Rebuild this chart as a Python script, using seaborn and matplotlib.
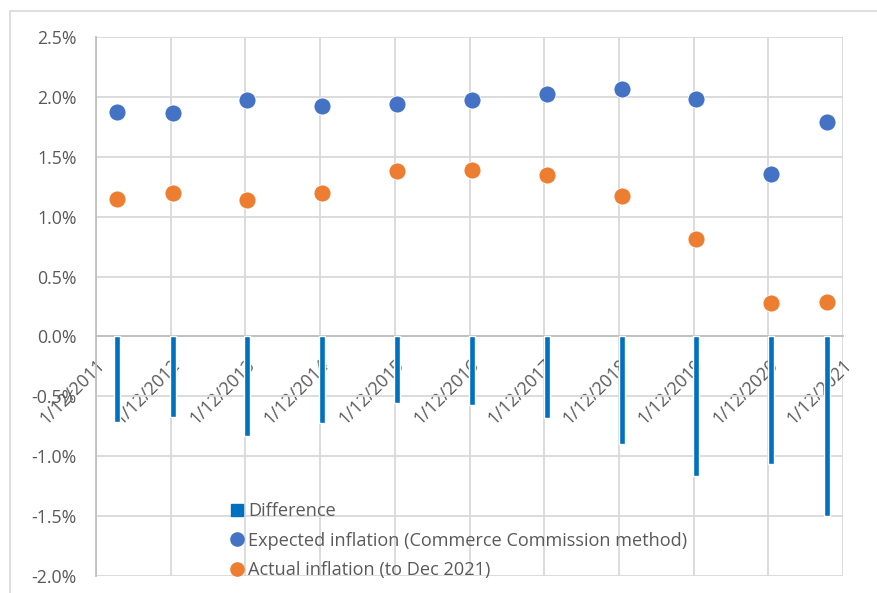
import matplotlib
matplotlib.use("Agg")
import matplotlib.pyplot as plt
from matplotlib.patches import Rectangle
from matplotlib.lines import Line2D
import matplotlib.ticker as mticker
import seaborn as sns
import pandas as pd

# Observation dates
dates = ["2012-03-14", "2012-12-12", "2013-12-09", "2014-12-10", "2015-12-12",
         "2016-12-13", "2017-12-14", "2018-12-16", "2019-12-13", "2020-12-14",
         "2021-09-13"]

# Inflation series (%)
expected = [1.876, 1.867, 1.970, 1.923, 1.942, 1.973, 2.026, 2.065, 1.980, 1.355, 1.792]
actual = [1.147, 1.197, 1.139, 1.197, 1.383, 1.391, 1.347, 1.169, 0.816, 0.279, 0.290]
difference = [-0.715, -0.670, -0.829, -0.726, -0.559, -0.576, -0.679, -0.896, -1.165, -1.063, -1.503]

tick_dates = ["2011-12-01", "2012-12-01", "2013-12-01", "2014-12-01", "2015-12-01",
              "2016-12-01", "2017-12-01", "2018-12-01", "2019-12-01", "2020-12-01",
              "2021-12-01"]
tick_labels = ["1/12/2011", "1/12/2012", "1/12/2013", "1/12/2014", "1/12/2015",
               "1/12/2016", "1/12/2017", "1/12/2018", "1/12/2019", "1/12/2020",
               "1/12/2021"]

label_expected = "Expected inflation (Commerce Commission method)"
label_actual = "Actual inflation (to Dec 2021)"
label_diff = "Difference"

BLUE = "#4472C4"
ORANGE = "#ED7D31"
BAR = "#0070C0"
GRID = "#d9d9d9"
TEXT = "#595959"
FS = 12.8
LFS = 13.1

sns.set_theme(style="white")
plt.rcParams["font.family"] = ["Open Sans", "DejaVu Sans"]

df = pd.DataFrame({
    "date": pd.to_datetime(dates),
    "expected": expected,
    "actual": actual,
    "difference": difference,
})

W, H = 877, 593
fig = plt.figure(figsize=(W / 100, H / 100), dpi=100)
ax = fig.add_axes([96 / W, 1 - 576 / H, (843 - 96) / W, (576 - 37) / H])

# outer chart border
fig.patches.append(Rectangle((10 / W, -0.2), 1.2, 1.2 - 11 / H, transform=fig.transFigure,
                             fill=False, edgecolor=GRID, linewidth=1.2, zorder=0))

ax.bar(df["date"], df["difference"], width=28, color=BAR, zorder=3)
sns.scatterplot(data=df, x="date", y="expected", ax=ax, color=BLUE, s=150,
                edgecolor="white", linewidth=0.6, zorder=4, legend=False)
sns.scatterplot(data=df, x="date", y="actual", ax=ax, color=ORANGE, s=150,
                edgecolor="white", linewidth=0.6, zorder=4, legend=False)

ax.set_xlim(pd.Timestamp(tick_dates[0]), pd.Timestamp(tick_dates[-1]))
ax.set_ylim(-2.0, 2.5)
ax.set_yticks([-2.0, -1.5, -1.0, -0.5, 0.0, 0.5, 1.0, 1.5, 2.0, 2.5])
ax.yaxis.set_major_formatter(mticker.FuncFormatter(lambda v, p: f"{v:.1f}%"))
ax.set_xticks(pd.to_datetime(tick_dates))
ax.xaxis.set_major_formatter(mticker.FixedFormatter(tick_labels))

ax.grid(True, color=GRID, linewidth=1.3, zorder=0)
ax.set_axisbelow(True)
for side in ["top", "right"]:
    ax.spines[side].set_visible(False)
ax.spines["left"].set_color("#bfbfbf")
ax.spines["left"].set_linewidth(1.3)
ax.spines["bottom"].set_position(("data", 0))
ax.spines["bottom"].set_color("#bfbfbf")
ax.spines["bottom"].set_linewidth(1.3)
ax.spines["bottom"].set_zorder(2)

ax.tick_params(axis="both", length=0, colors=TEXT, labelsize=FS)
ax.tick_params(axis="y", pad=14)
ax.tick_params(axis="x", pad=14, labelrotation=45)
for lab in ax.get_xticklabels():
    lab.set_horizontalalignment("right")
    lab.set_rotation_mode("anchor")
ax.set_xlabel("")
ax.set_ylabel("")

handles = [
    Line2D([], [], marker="s", linestyle="none", color=BAR, markersize=8),
    Line2D([], [], marker="o", linestyle="none", color=BLUE, markersize=9.5),
    Line2D([], [], marker="o", linestyle="none", color=ORANGE, markersize=9.5),
]
leg = fig.legend(handles, [label_diff, label_expected, label_actual],
                 loc="upper left", bbox_to_anchor=(228 / W, 1 - 502 / H),
                 frameon=False, fontsize=LFS, labelcolor=TEXT,
                 handletextpad=0.1, handlelength=1.0, labelspacing=0.64,
                 borderpad=0, borderaxespad=0)

fig.savefig("out.png", dpi=100)
